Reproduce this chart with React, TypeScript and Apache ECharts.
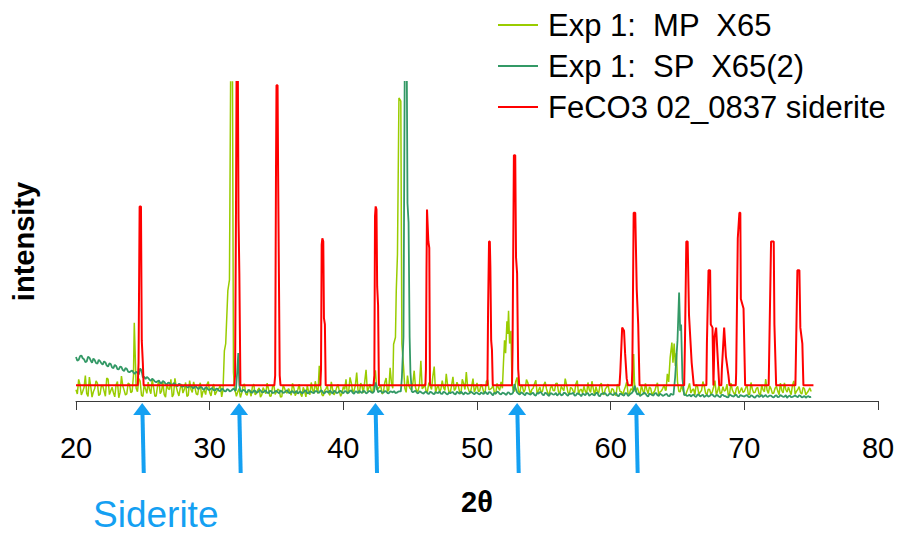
import React, { useEffect, useRef } from "react";
import * as echarts from "echarts";

// 2-theta scale
const xTicks = [20, 30, 40, 50, 60, 70, 80];

// Measured scans: background read every 0.1 deg from 20 to 75,
// split into the even steps (20.0, 20.2, ...) and the odd steps (20.1, 20.3, ...)
const scanStart = 20;
const scanStep = 0.2;

const mpBackground = [
  3.5, 6.8, 1.9, 4.2, 2.4, 7.5, 1.2, 3.9, 5.6, 2.1,
  4.8, 1.5, 6.9, 3.2, 2.6, 5.1, 1.0, 7.8, 3.4, 2.2,
  5.3, 1.7, 4.6, 2.9, 6.2, 1.4, 3.8, 5.9, 2.3, 4.4,
  1.6, 6.5, 3.1, 2.0, 5.4, 3.6, 1.3, 7.1, 2.8, 4.0,
  2.5, 5.8, 1.8, 3.7, 6.0, 2.2, 4.5, 1.1, 3.3, 5.2,
  2.7, 4.1, 1.9, 3.6, 5.0, 2.4, 3.2, 4.4, 2.1, 3.0,
  1.5, 3.9, 2.6, 5.4, 1.8, 3.1, 4.6, 2.0, 3.5, 1.2,
  4.2, 2.3, 3.8, 1.6, 5.1, 2.9, 3.4, 1.4, 4.0, 2.5,
  3.0, 5.5, 1.7, 3.6, 2.2, 4.3, 1.3, 3.1, 5.8, 2.4,
  3.9, 11.0, 2.0, 3.3, 4.8, 1.8, 3.6, 2.7, 5.2, 1.5,
  4.5, 6.8, 2.9, 5.6, 3.2, 8.9, 2.4, 4.7, 6.1, 3.0,
  5.3, 2.6, 9.6, 3.8, 4.9, 2.8, 7.2, 3.5, 5.7, 4.0,
  3.7, 5.1, 2.5, 6.3, 8.0, 3.9, 5.5, 4.2, 3.4, 12.6,
  4.3, 2.7, 5.8, 3.6, 10.8, 4.1, 2.9, 6.4, 3.3, 5.0,
  2.6, 7.6, 3.9, 4.8, 2.3, 5.5, 9.1, 3.2, 4.6, 2.8,
  5.7, 3.1, 4.4, 2.5, 6.6, 3.7, 5.0, 2.2, 4.1, 6.0,
  3.4, 4.8, 2.6, 5.3, 3.0, 7.4, 2.4, 4.5, 3.6, 5.8,
  2.1, 4.0, 6.5, 3.3, 2.7, 5.1, 3.8, 1.9, 4.7, 3.2,
  5.6, 2.4, 3.9, 7.0, 2.8, 4.3, 3.1, 5.4, 2.0, 3.7,
  4.6, 2.2, 3.5, 6.2, 1.8, 3.0, 4.9, 2.6, 3.8, 5.3,
  2.4, 3.6, 1.7, 4.8, 2.9, 3.3, 6.0, 2.1, 3.7, 2.5,
  4.2, 1.9, 3.4, 5.5, 2.3, 3.9, 2.6, 4.6, 1.6, 3.2,
  5.0, 2.7, 3.6, 2.1, 4.4, 6.8, 2.9, 3.5, 1.8, 4.1,
  2.5, 3.8, 5.2, 2.0, 3.3, 4.7, 1.9, 3.6, 2.8, 6.4,
  3.1, 2.2, 4.5, 3.4, 1.7, 5.6, 2.6, 3.9, 2.3, 4.2,
  3.0, 5.1, 2.1, 3.7, 2.7, 4.3, 1.8, 3.5, 6.9, 2.4,
  3.8, 2.5, 4.6, 2.0, 3.3, 5.7, 2.8, 3.1, 4.9, 2.2,
  3.6, 2.6, 4.3, 1.9, 3.2, 3.0,
];

const mpBackgroundOdd = [
  2.2, 5.1, 3.0, 8.0, 1.4, 4.6, 2.9, 6.3, 1.7, 4.9,
  3.1, 7.2, 2.0, 4.3, 1.3, 6.1, 2.7, 4.8, 1.9, 5.6,
  2.6, 4.1, 3.3, 7.0, 1.8, 5.0, 2.4, 3.6, 6.7, 1.5,
  4.7, 2.3, 5.9, 1.2, 3.8, 6.8, 2.1, 4.5, 1.6, 5.3,
  3.6, 1.4, 6.4, 2.7, 4.2, 1.9, 5.7, 3.0, 2.0, 6.1,
  1.6, 5.3, 2.8, 4.0, 1.3, 3.9, 2.5, 5.0, 1.8, 3.4,
  2.9, 1.1, 4.7, 2.2, 3.6, 1.5, 5.3, 2.4, 4.1, 1.9,
  3.3, 5.6, 1.5, 4.4, 2.1, 3.7, 1.2, 5.0, 2.8, 3.9,
  1.8, 4.1, 2.6, 5.3, 1.4, 3.2, 4.8, 2.0, 3.5, 6.2,
  2.3, 4.6, 1.6, 3.8, 2.5, 6.0, 1.9, 4.2, 3.1, 2.4,
  3.6, 2.2, 7.4, 2.8, 4.9, 3.3, 5.6, 2.5, 9.8, 4.1,
  2.9, 6.3, 3.5, 4.4, 2.2, 5.8, 3.0, 10.4, 2.6, 4.7,
  4.4, 3.0, 7.0, 2.7, 4.8, 3.5, 9.5, 2.9, 5.2, 3.8,
  5.4, 3.1, 4.6, 7.9, 2.5, 5.0, 3.7, 4.2, 8.5, 2.9,
  4.9, 3.3, 5.9, 2.7, 6.8, 3.6, 4.4, 2.4, 7.0, 3.9,
  3.0, 5.2, 2.8, 6.2, 3.5, 4.0, 2.6, 5.5, 3.3, 4.5,
  5.0, 2.9, 4.0, 3.2, 6.1, 3.1, 5.0, 2.7, 6.7, 3.8,
  3.6, 5.4, 2.3, 4.4, 3.1, 6.0, 2.5, 4.2, 3.3, 5.5,
  2.8, 4.6, 3.2, 5.1, 1.9, 4.0, 2.6, 6.4, 3.4, 2.5,
  3.1, 5.8, 2.7, 3.9, 4.5, 2.4, 5.6, 1.9, 4.3, 2.8,
  3.9, 2.1, 5.2, 3.0, 1.8, 4.5, 2.4, 3.8, 5.1, 3.2,
  2.7, 4.9, 2.1, 3.7, 4.4, 1.8, 3.2, 5.7, 2.9, 4.0,
  3.3, 4.0, 2.6, 5.2, 3.1, 2.4, 4.9, 2.2, 3.0, 5.5,
  3.4, 1.9, 4.5, 2.8, 6.1, 2.5, 3.7, 2.2, 4.4, 2.0,
  4.8, 2.6, 3.1, 5.3, 2.4, 3.5, 1.8, 4.6, 3.2, 2.7,
  4.1, 2.0, 5.8, 2.6, 3.9, 2.3, 5.0, 2.9, 3.4, 4.7,
  2.3, 4.0, 3.1, 5.6, 2.5, 3.6, 4.3, 2.0, 6.3, 3.0,
  4.5, 2.2, 3.8, 2.6, 4.1,
];

const spBackground = [
  13.8, 12.9, 14.3, 13.1, 12.4, 13.6, 12.0, 12.8, 11.7, 12.5,
  11.4, 12.1, 10.8, 11.6, 10.3, 11.0, 9.9, 10.6, 9.4, 10.1,
  9.0, 9.6, 8.5, 8.8, 10.2, 7.4, 6.9, 7.2, 6.3, 6.6,
  5.9, 6.4, 5.5, 6.0, 5.1, 5.6, 4.9, 5.4, 4.7, 5.2,
  4.5, 5.0, 4.2, 4.8, 4.0, 4.5, 3.8, 4.3, 3.6, 4.1,
  3.5, 4.0, 3.3, 3.8, 3.1, 3.7, 3.0, 3.6, 3.2, 3.9,
  3.3, 3.6, 2.9, 3.4, 2.7, 3.3, 2.6, 3.2, 2.8, 3.4,
  2.7, 3.3, 2.5, 3.1, 2.6, 3.2, 2.4, 3.0, 2.7, 3.4,
  2.5, 3.1, 2.7, 2.3, 3.0, 2.6, 3.3, 2.4, 2.9, 2.5,
  3.1, 2.6, 3.2, 2.4, 2.9, 3.3, 2.3, 3.0, 2.6, 3.2,
  2.4, 3.0, 2.6, 3.3, 2.3, 2.9, 3.2, 2.5, 3.0, 2.6,
  3.1, 2.5, 5.8, 2.7, 3.2, 2.6, 3.0, 2.4, 2.9, 3.1,
  2.6, 3.0, 2.4, 2.8, 2.5, 2.9, 2.7, 3.2, 2.4, 2.8,
  2.3, 2.9, 2.2, 2.7, 2.1, 2.6, 3.0, 2.2, 2.7, 2.0,
  2.4, 2.8, 2.1, 2.6, 2.9, 2.0, 2.5, 2.3, 2.8, 2.1,
  2.6, 2.0, 2.4, 2.9, 2.1, 2.7, 1.8, 2.3, 2.8, 2.1,
  2.5, 1.9, 2.6, 2.2, 5.3, 2.7, 2.0, 2.5, 1.8, 2.4,
  2.0, 2.6, 1.7, 2.3, 2.7, 1.8, 2.4, 1.6, 2.3, 2.1,
  1.7, 2.4, 1.9, 2.5, 1.6, 2.2, 2.6, 1.8, 2.3, 1.5,
  2.1, 2.4, 1.6, 2.3, 1.8, 2.6, 1.5, 2.2, 2.4, 1.7,
  2.3, 1.8, 2.5, 1.5, 2.2, 1.7, 2.4, 1.9, 2.6, 4.8,
  2.0, 1.5, 2.2, 2.4, 1.4, 2.1, 1.7, 2.5, 1.6, 2.0,
  1.8, 2.2, 1.5, 2.0, 1.6, 2.1, 1.9, 1.4, 2.0, 1.7,
  1.4, 2.0, 1.3, 1.9, 1.7, 1.2, 1.9, 1.5, 2.1, 1.3,
  1.8, 1.2, 1.9, 1.5, 1.1, 1.8, 1.4, 2.0, 1.2, 1.7,
  1.4, 1.9, 1.2, 1.6, 1.0, 1.8, 1.5, 1.2, 1.9, 1.4,
  1.7, 1.1, 1.8, 1.3, 1.6, 1.4, 1.0, 1.7, 1.3, 1.8,
  1.2, 1.6, 1.3, 1.0, 1.5, 1.3,
];

const spBackgroundOdd = [
  12.6, 14.0, 13.4, 12.2, 13.9, 12.7, 13.3, 11.9, 12.9, 11.8,
  12.4, 11.1, 11.8, 10.5, 11.3, 10.0, 10.8, 9.7, 10.3, 9.2,
  9.3, 8.9, 9.2, 8.3, 9.6, 7.6, 7.5, 6.7, 7.0, 6.1,
  6.2, 5.7, 6.3, 5.4, 5.8, 5.0, 5.6, 4.8, 5.4, 4.6,
  4.9, 4.4, 4.9, 4.2, 4.6, 3.9, 4.5, 3.7, 4.3, 3.5,
  3.9, 3.4, 3.9, 3.2, 3.8, 3.1, 3.7, 3.0, 3.6, 3.3,
  3.5, 3.0, 3.5, 2.8, 3.4, 2.7, 3.3, 2.6, 3.3, 2.8,
  3.1, 2.6, 3.2, 2.5, 3.0, 2.7, 3.3, 2.5, 3.1, 2.6,
  2.9, 2.5, 3.2, 2.8, 2.4, 3.2, 2.5, 3.0, 2.6, 3.1,
  2.7, 3.3, 2.5, 3.0, 2.6, 2.8, 3.2, 2.5, 3.1, 2.7,
  3.1, 2.5, 3.2, 2.6, 3.0, 2.5, 2.8, 3.2, 2.4, 3.1,
  2.7, 3.0, 4.6, 3.1, 2.6, 3.1, 2.5, 3.0, 2.7, 2.5,
  2.9, 2.5, 3.0, 2.6, 3.1, 2.5, 3.0, 2.6, 3.1, 2.5,
  2.8, 2.4, 2.9, 2.3, 2.8, 2.5, 2.3, 2.9, 2.3, 2.7,
  2.7, 2.2, 2.9, 2.3, 2.5, 2.7, 2.2, 2.9, 2.4, 2.6,
  2.3, 2.7, 2.2, 2.5, 2.8, 2.2, 2.6, 2.9, 2.2, 2.6,
  2.2, 2.7, 2.1, 2.6, 3.8, 2.3, 2.7, 2.1, 2.6, 2.2,
  2.4, 1.9, 2.5, 2.8, 2.0, 2.6, 1.9, 2.5, 2.0, 2.5,
  2.2, 1.8, 2.6, 2.0, 2.4, 2.3, 1.7, 2.4, 2.0, 2.3,
  1.8, 2.5, 2.0, 1.9, 2.5, 1.7, 2.3, 2.5, 1.8, 2.3,
  2.0, 2.4, 1.7, 2.3, 1.9, 2.5, 1.6, 2.3, 3.2, 2.9,
  2.4, 1.9, 2.6, 1.7, 2.3, 1.9, 2.4, 1.8, 2.3, 1.6,
  2.1, 1.6, 2.3, 1.8, 2.2, 1.5, 1.9, 2.2, 1.6, 2.0,
  1.8, 1.5, 2.1, 1.4, 2.0, 1.6, 1.4, 2.0, 1.6, 1.8,
  1.4, 1.9, 1.5, 1.2, 2.0, 1.5, 1.8, 1.3, 1.9, 1.5,
  1.7, 1.3, 1.8, 1.2, 1.6, 1.3, 1.9, 1.6, 1.3, 1.7,
  1.3, 1.6, 1.2, 1.9, 1.3, 1.8, 1.5, 1.2, 1.5, 1.4,
  1.8, 1.1, 1.6, 1.4, 1.2,
];

// Reflections in the measured scans, [2theta, intensity]
const mpPeaks = [
  [[24.2, 3.0], [24.3, 8], [24.36, 24.5], [24.42, 16], [24.5, 4]],
  [[31.0, 3.5], [31.1, 15.7], [31.2, 18], [31.36, 34.6], [31.48, 38], [31.58, 110], [31.7, 110], [31.78, 9], [31.88, 3]],
  [[43.7, 4], [43.76, 17.8], [43.9, 20], [43.96, 34.6], [44.05, 46], [44.16, 95], [44.3, 94], [44.38, 18], [44.5, 11], [44.6, 4]],
  [[51.9, 4], [51.98, 12], [52.06, 19], [52.14, 15], [52.24, 25], [52.3, 21], [52.36, 28.3], [52.44, 18], [52.54, 22], [52.62, 6], [52.7, 3.5]],
  [[61.64, 3], [61.72, 14.7], [61.78, 6], [61.84, 3]],
  [[64.15, 3.5], [64.24, 8.5], [64.34, 6], [64.45, 13.6], [64.58, 18.3], [64.66, 12], [64.75, 18], [64.84, 11], [64.92, 15], [65.0, 6], [65.1, 3]],
];

const spPeaks = [
  [[31.96, 3.3], [32.06, 9], [32.14, 15], [32.22, 5], [32.3, 3.2]],
  [[44.3, 3], [44.38, 7.3], [44.5, 20], [44.6, 110], [44.74, 110], [44.8, 62], [44.88, 56], [44.96, 20], [45.02, 9], [45.12, 3]],
  [[64.7, 2], [64.82, 7.3], [65.0, 19], [65.12, 34], [65.2, 22], [65.27, 24], [65.37, 7], [65.5, 1.8]],
];

// FeCO3 reference pattern (02-0837 siderite)
const sideritePattern = [
  [20, 4.9],
  [24.62, 4.9], [24.68, 12], [24.76, 61], [24.86, 61], [24.92, 19], [25.0, 12], [25.06, 4.9],
  [31.84, 4.9], [31.9, 8], [31.97, 60], [32.02, 110], [32.1, 110], [32.16, 57], [32.22, 40], [32.3, 4.9],
  [34.84, 4.9], [34.9, 8], [34.96, 70], [35.0, 99], [35.08, 99], [35.12, 72], [35.18, 40], [35.24, 8], [35.3, 4.9],
  [38.28, 4.9], [38.33, 10], [38.38, 49], [38.43, 51], [38.5, 50], [38.55, 26], [38.62, 24], [38.68, 4.9],
  [42.26, 4.9], [42.32, 8], [42.37, 58], [42.42, 61], [42.48, 60], [42.53, 36], [42.6, 30], [42.66, 4.9],
  [46.14, 4.9], [46.18, 10], [46.22, 40], [46.26, 60], [46.31, 60], [46.36, 50], [46.43, 48], [46.48, 4.9],
  [50.78, 4.9], [50.83, 29], [50.9, 50], [50.96, 50], [51.0, 42], [51.06, 19], [51.12, 16], [51.18, 4.9],
  [52.62, 4.9], [52.66, 17], [52.76, 77], [52.86, 77], [52.92, 45], [53.0, 40], [53.08, 10], [53.16, 4.9],
  [60.66, 4.9], [60.72, 9], [60.86, 23], [61.0, 22], [61.08, 15], [61.2, 7], [61.3, 4.9],
  [61.58, 4.9], [61.62, 10], [61.72, 59], [61.84, 59], [61.95, 35], [62.06, 24], [62.16, 4.9],
  [65.5, 4.9], [65.56, 19], [65.66, 50], [65.76, 50], [65.86, 27], [66.06, 12], [66.22, 4.9],
  [67.16, 4.9], [67.2, 18], [67.32, 41], [67.44, 41], [67.49, 24], [67.62, 23], [67.69, 4.9],
  [67.74, 4.9], [67.77, 20], [67.89, 23], [67.99, 15], [68.12, 4.9],
  [68.28, 4.9], [68.32, 10], [68.49, 23], [68.62, 14], [68.81, 8], [68.89, 4.9],
  [69.36, 4.9], [69.39, 9], [69.51, 51], [69.63, 59], [69.7, 59], [69.74, 32], [69.94, 29], [70.06, 4.9],
  [71.82, 4.9], [71.85, 12], [72.0, 50], [72.2, 50], [72.25, 24], [72.38, 4.9],
  [73.82, 4.9], [73.85, 12], [73.97, 41], [74.12, 41], [74.19, 23], [74.34, 18], [74.42, 4.9],
  [75.17, 4.9],
];

// Siderite reflections marked below the axis
const sideriteMarks = [24.95, 32.2, 42.4, 53.0, 61.9];

const seriesNames = ["Exp 1:  MP  X65", "Exp 1:  SP  X65(2)", "FeCO3 02_0837 siderite"];

const FONT = "'Liberation Sans', Arial, sans-serif";
const MARK_BLUE = "#14A0F2";

// Background samples (even and odd steps), with the reflections spliced in over their own ranges
function buildScan(even: number[], odd: number[], peaks: number[][][]) {
  const points = [
    ...even.map((v, i) => [+(scanStart + i * scanStep).toFixed(2), v]),
    ...odd.map((v, i) => [+(scanStart + scanStep / 2 + i * scanStep).toFixed(2), v]),
  ];
  const kept = points.filter(
    ([x]) => !peaks.some((p) => x >= p[0][0] && x <= p[p.length - 1][0])
  );
  return [...kept, ...peaks.flat()].sort((a, b) => a[0] - b[0]);
}

export default function App() {
  const ref = useRef<HTMLDivElement>(null);

  useEffect(() => {
    if (!ref.current) return;
    const chart = echarts.init(ref.current, undefined, { renderer: "svg" });

    chart.setOption({
      animation: false,
      backgroundColor: "#ffffff",
      grid: { left: 76, right: 23, top: 82, bottom: 137, containLabel: false },
      legend: {
        data: seriesNames,
        orient: "vertical",
        left: 498,
        top: 9,
        padding: 0,
        icon: "rect",
        itemWidth: 40,
        itemHeight: 2,
        itemGap: 9,
        selectedMode: false,
        textStyle: {
          fontFamily: FONT,
          fontSize: 31,
          color: "#000",
          lineHeight: 32,
          padding: [0, 0, 0, 5],
        },
      },
      xAxis: {
        type: "value",
        min: xTicks[0],
        max: xTicks[xTicks.length - 1],
        interval: 10,
        name: "2θ",
        nameLocation: "middle",
        nameGap: 86,
        nameTextStyle: { fontFamily: FONT, fontSize: 29, fontWeight: "bold", color: "#000" },
        axisLine: { show: true, onZero: false, lineStyle: { color: "#3a3a3a", width: 1 } },
        axisTick: { show: true, length: 9, lineStyle: { color: "#3a3a3a", width: 1 } },
        axisLabel: { margin: 32, fontFamily: FONT, fontSize: 29, color: "#000" },
        splitLine: { show: false },
      },
      yAxis: {
        type: "value",
        min: 0,
        max: 100,
        name: "intensity",
        nameLocation: "middle",
        nameGap: 38,
        nameRotate: 90,
        nameTextStyle: { fontFamily: FONT, fontSize: 29, fontWeight: "bold", color: "#000" },
        axisLine: { show: false },
        axisTick: { show: false },
        axisLabel: { show: false },
        splitLine: { show: false },
      },
      graphic: [
        {
          type: "text",
          left: 93,
          top: 496,
          style: {
            text: "Siderite",
            fontFamily: FONT,
            fontSize: 37,
            fill: MARK_BLUE,
          },
        },
      ],
      series: [
        {
          name: seriesNames[0],
          type: "line",
          data: buildScan(mpBackground, mpBackgroundOdd, mpPeaks),
          showSymbol: false,
          symbol: "none",
          color: "#99CC00",
          lineStyle: { color: "#99CC00", width: 1.5 },
          z: 2,
        },
        {
          name: seriesNames[1],
          type: "line",
          data: buildScan(spBackground, spBackgroundOdd, spPeaks),
          showSymbol: false,
          symbol: "none",
          color: "#339966",
          lineStyle: { color: "#339966", width: 1.8 },
          z: 3,
        },
        {
          name: seriesNames[2],
          type: "line",
          data: sideritePattern,
          showSymbol: false,
          symbol: "none",
          color: "#FF0000",
          lineStyle: { color: "#FF0000", width: 2 },
          z: 4,
        },
        {
          name: "marks",
          type: "custom",
          silent: true,
          clip: false,
          z: 5,
          data: sideriteMarks.map((x) => [x, 0]),
          encode: { x: 0, y: 1 },
          renderItem: (_params: any, api: any) => {
            const p = api.coord([api.value(0), 0]);
            const x = p[0];
            const y = p[1];
            return {
              type: "group",
              children: [
                {
                  type: "line",
                  shape: { x1: x + 0.3, y1: y + 12, x2: x + 1.6, y2: y + 72 },
                  style: { stroke: MARK_BLUE, lineWidth: 4 },
                },
                {
                  type: "polygon",
                  shape: { points: [[x, y + 2], [x - 9, y + 14], [x + 9, y + 14]] },
                  style: { fill: MARK_BLUE },
                },
              ],
            };
          },
        },
      ],
    });

    return () => chart.dispose();
  }, []);

  return (
    <div
      ref={ref}
      style={{ position: "fixed", left: 0, top: 0, width: 901, height: 538, background: "#fff" }}
    />
  );
}
